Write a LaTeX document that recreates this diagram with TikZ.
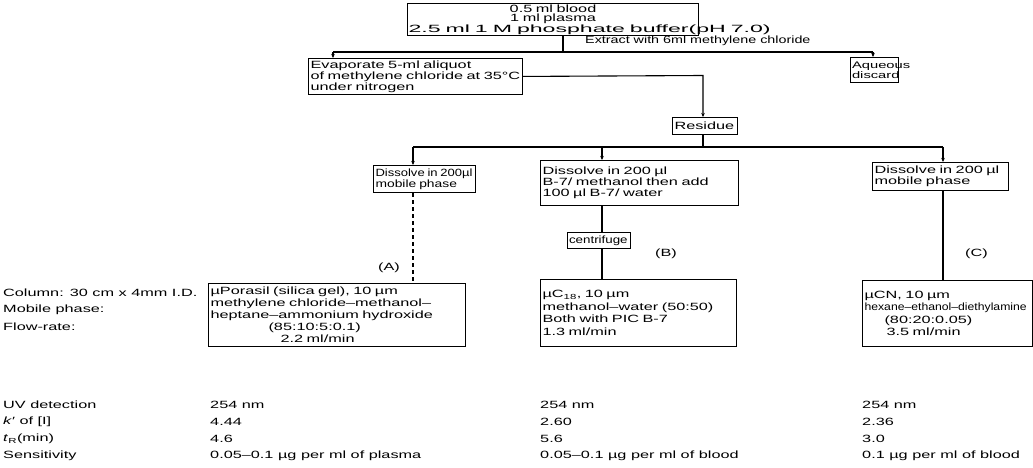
\documentclass[tikz,border=0pt]{standalone}
\usepackage{fontspec}
\setmainfont{Liberation Sans}[FakeStretch=1.55]
\usetikzlibrary{arrows.meta}
\newcommand{\hs}[2]{\scalebox{#1}[1]{#2}}
\tikzset{
  ln/.style={line width=1.1pt},
  bx/.style={draw, line width=1.1pt, anchor=north west, inner sep=2pt, align=left,
    font=\fontsize{10.5}{11}\selectfont},
  lbl/.style={anchor=west, inner sep=0pt, font=\fontsize{10.5}{11}\selectfont},
  arr/.style={ln, -{Stealth[length=4pt,width=3.5pt]}},
}
\begin{document}
\begin{tikzpicture}[x=1pt,y=-1pt]
\useasboundingbox (0,0) rectangle (1033,468);
% boxes
\node[bx, align=center, text width=289, minimum height=30, inner sep=1pt,
  font=\fontsize{10.5}{9.3}\selectfont] (top) at (407,3)
  {0.5 ml blood\\1 ml plasma\\\hs{1.42}{2.5 ml 1 M phosphate buffer(pH 7.0)}};
\node[bx, text width=210, minimum height=35] (evap) at (308,58)
  {Evaporate 5-ml aliquot\\of methylene chloride at 35°C\\under nitrogen};
\node[bx, text width=45, minimum height=25, inner sep=1.5pt,
  font=\fontsize{9.5}{9.5}\selectfont] (aq) at (850,57) {Aqueous\\discard};
\node[bx, text width=61, minimum height=17] (res) at (672,117) {Residue};
\node[bx, text width=98, minimum height=27] (a1) at (373,165)
  {\hs{0.8}{Dissolve in 200µl}\\\hs{0.85}{mobile phase}};
\node[bx, text width=194, minimum height=45] (b1) at (540,160)
  {Dissolve in 200 µl\\B-7/ methanol then add\\100 µl B-7/ water};
\node[bx, text width=132, minimum height=28] (c1) at (872,162)
  {Dissolve in 200 µl\\mobile phase};
\node[bx, text width=60, minimum height=16, inner sep=1.5pt] (cf) at (567,232)
  {\hs{0.82}{centrifuge}};
\node[bx, text width=253, minimum height=63, font=\fontsize{10.5}{12}\selectfont] (a2) at (208,283)
  {µPorasil (silica gel), 10 µm\\methylene chloride–methanol–\\heptane–ammonium hydroxide\\
   \hspace*{58pt}(85:10:5:0.1)\\\hspace*{70pt}2.2 ml/min};
\node[bx, text width=192, minimum height=67, font=\fontsize{10.5}{12.5}\selectfont] (b2) at (540,279)
  {µC\textsubscript{18}, 10 µm\\methanol–water (50:50)\\Both with PIC B-7\\1.3 ml/min\\[10pt]};
\node[bx, text width=166, minimum height=66, font=\fontsize{10.5}{12.5}\selectfont] (c2) at (862,280)
  {µCN, 10 µm\\\hs{0.75}{hexane–ethanol–diethylamine}\\\hspace*{20pt}(80:20:0.05)\\\hspace*{22pt}3.5 ml/min\\[10pt]};
% connectors
\coordinate (sx) at (563,52);
\coordinate (jl) at (333,52);
\coordinate (jr) at (873,52);
\draw[ln] (sx |- top.south) -- (sx);
\draw[ln] (jl) -- (jr);
\draw[arr] (jl) -- (jl |- evap.north);
\draw[arr] (jr) -- (jr |- aq.north);
\node[lbl] (ext) at (585,41) {\hs{0.88}{Extract with 6ml methylene chloride}};
\coordinate (rj) at (703,75.5);
\draw[arr] (evap.east) -- (rj) -- (rj |- res.north);
\coordinate (bj) at (703,147);
\coordinate (xa) at (413,147);
\coordinate (xb) at (602,147);
\coordinate (xc) at (943,147);
\draw[ln] (rj |- res.south) -- (bj);
\draw[ln] (xa) -- (xc);
\draw[arr] (xa) -- (xa |- a1.north);
\draw[arr] (xb) -- (xb |- b1.north);
\draw[arr] (xc) -- (xc |- c1.north);
\draw[ln, dash pattern=on 4pt off 3pt] (xa |- a1.south) -- (xa |- a2.north);
\draw[ln] (xb |- b1.south) -- (xb |- cf.north);
\draw[ln] (xb |- cf.south) -- (xb |- b2.north);
\draw[ln] (xc |- c1.south) -- (xc |- c2.north);
\node[lbl] (la) at (378,268) {(A)};
\node[lbl] (lb) at (655,254) {(B)};
\node[lbl] (lc) at (965,254) {(C)};
% left labels
\node[lbl] (col) at (3,293) {Column: 30 cm x 4mm I.D.};
\node[lbl] (mob) at (3,310) {Mobile phase:};
\node[lbl] (flo) at (3,327) {Flow-rate:};
% bottom table
\node[lbl] (uv) at (3,405) {UV detection};
\node[lbl] (kk) at (3,422) {\textit{k}′ of [I]};
\node[lbl] (tr) at (3,439) {\textit{t}\textsubscript{R}(min)};
\node[lbl] (se) at (3,456) {Sensitivity};
\node[lbl] (uva) at (210,405) {254 nm};
\node[lbl] (kka) at (210,422) {4.44};
\node[lbl] (tra) at (210,439) {4.6};
\node[lbl] (sea) at (210,456) {0.05–0.1 µg per ml of plasma};
\node[lbl] (uvb) at (540,405) {254 nm};
\node[lbl] (kkb) at (540,422) {2.60};
\node[lbl] (trb) at (540,439) {5.6};
\node[lbl] (seb) at (540,456) {0.05–0.1 µg per ml of blood};
\node[lbl] (uvc) at (862,405) {254 nm};
\node[lbl] (kkc) at (862,422) {2.36};
\node[lbl] (trc) at (862,439) {3.0};
\node[lbl] (sec) at (862,456) {0.1 µg per ml of blood};
\end{tikzpicture}
\end{document}
